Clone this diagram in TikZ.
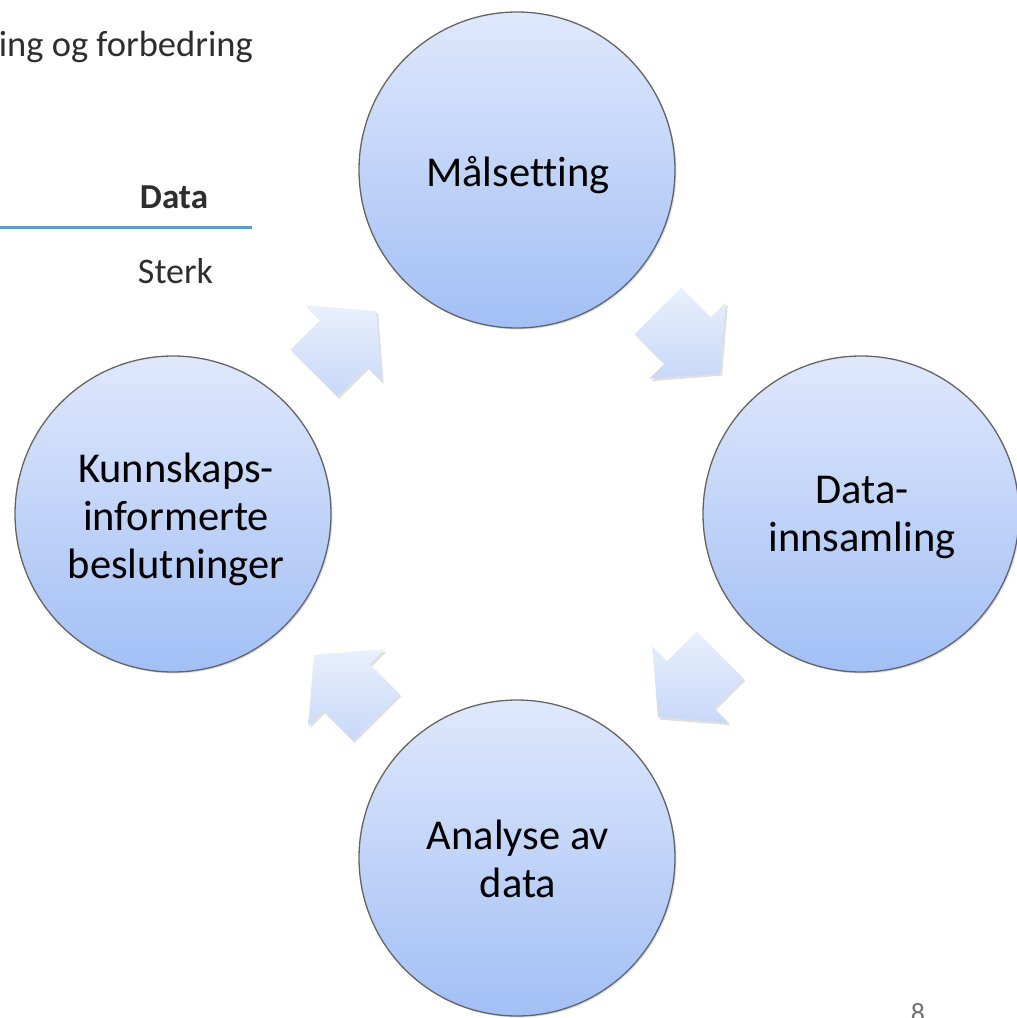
\documentclass[tikz,border=0pt]{standalone}
\usepackage{fontspec}
\setmainfont{Carlito}[Ligatures={NoCommon}]
\usetikzlibrary{calc,shadows}
\definecolor{circtop}{RGB}{223,232,252}
\definecolor{circbot}{RGB}{162,191,245}
\definecolor{arrtop}{RGB}{233,240,253}
\definecolor{arrbot}{RGB}{199,216,248}
\definecolor{rulecol}{RGB}{91,155,213}
\tikzset{
  cyclenode/.style={circle, minimum size=316pt, inner sep=0pt,
    draw={rgb,255:red,100;green,100;blue,100}, line width=1.3pt,
    top color=circtop, bottom color=circbot,
    drop shadow={shadow xshift=1.5pt, shadow yshift=-1.5pt, opacity=0.25}},
  cycletext/.style={inner sep=0pt, align=center,
    font=\fontsize{42.5}{48}\selectfont},
  blockarrow/.style={top color=arrtop, bottom color=arrbot,
    drop shadow={shadow xshift=2pt, shadow yshift=-2.5pt, opacity=0.25}},
  pagetext/.style={inner sep=0pt, text=black!82}
}
\newcommand\cyclearrow[2]{% #1 center coordinate, #2 direction angle
  \path[blockarrow]
    ($(#1)+(#2:-44)+(#2+90:-33)$) --
    ($(#1)+(#2:-2)+(#2+90:-33)$) --
    ($(#1)+(#2:-2)+(#2+90:-54)$) --
    ($(#1)+(#2:44)$) --
    ($(#1)+(#2:-2)+(#2+90:54)$) --
    ($(#1)+(#2:-2)+(#2+90:33)$) --
    ($(#1)+(#2:-44)+(#2+90:33)$) -- cycle;}
\begin{document}
\begin{tikzpicture}[x=1pt, y=-1pt]
\useasboundingbox (0,0) rectangle (1017,1018);
\clip (0,0) rectangle (1017,1018);
% background page content
\node[pagetext, anchor=base east, font=\fontsize{36.5}{42}\selectfont] (title) at (253,56) {ing og forbedring};
\node[pagetext, anchor=base, font=\fontsize{35}{40}\selectfont\bfseries] (datahead) at (174,208) {Data};
\coordinate (ruleL) at (0,227.5);
\coordinate (ruleR) at (252,227.5);
\draw[rulecol, line width=3.5pt] (ruleL) -- (ruleR);
\node[pagetext, anchor=base, font=\fontsize{36}{41}\selectfont] (sterk) at (175.5,283) {Sterk};
\node[inner sep=0pt, anchor=north, text=black!55, font=\fontsize{28}{32}\selectfont] (pagenum) at (918,1003) {8};
% cycle
\node[cyclenode] (top) at (517,170) {};
\node[cyclenode] (right) at (861,514) {};
\node[cyclenode] (bottom) at (517,858) {};
\node[cyclenode] (left) at (173,514) {};
\node[cycletext] (toptext) at ($(top)+(1,5)$) {Målsetting};
\node[cycletext] (righttext) at ($(right)+(1,4)$) {Data-\\innsamling};
\node[cycletext] (bottomtext) at ($(bottom)+(1,1)$) {Analyse av\\data};
\node[cycletext] (lefttext) at ($(left)+(3,5)$) {Kunnskaps-\\informerte\\beslutninger};
\coordinate (m1) at ($(top)!0.5!(right)$);
\coordinate (m2) at ($(right)!0.5!(bottom)$);
\coordinate (m3) at ($(bottom)!0.5!(left)$);
\coordinate (m4) at ($(left)!0.5!(top)$);
\cyclearrow{m1}{45}
\cyclearrow{m2}{135}
\cyclearrow{m3}{225}
\cyclearrow{m4}{-45}
\end{tikzpicture}
\end{document}
